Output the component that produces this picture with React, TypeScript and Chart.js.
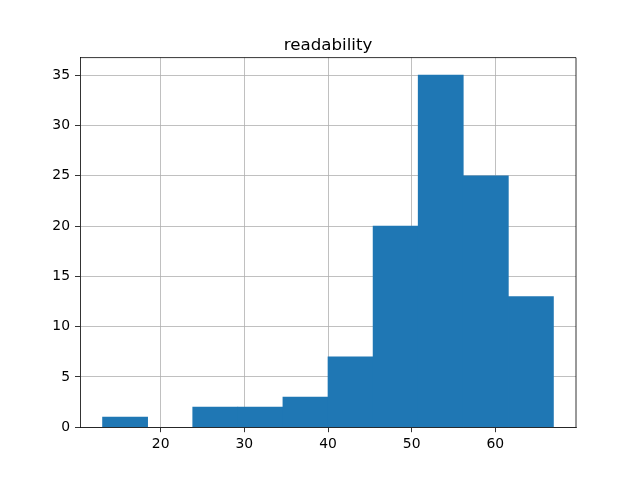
import React, { useEffect, useRef } from "react";
import { Chart, registerables } from "chart.js";

Chart.register(...registerables);

const chartTitle = "readability";
const binEdges = [13.05, 18.44, 23.83, 29.22, 34.61, 40.0, 45.39, 50.78, 56.17, 61.56, 66.95];
const binCounts = [1, 0, 2, 2, 3, 7, 20, 35, 25, 13];
const xTicks = [20, 30, 40, 50, 60];
const yTicks = [0, 5, 10, 15, 20, 25, 30, 35];
const xRange = [10.355, 69.645];
const yRange = [0, 36.75];

const FONT = "'DejaVu Sans', sans-serif";

export default function App() {
  const ref = useRef<HTMLCanvasElement | null>(null);

  useEffect(() => {
    const canvas = ref.current;
    if (!canvas) return;

    const data = binCounts.map((c, i) => ({
      x: (binEdges[i] + binEdges[i + 1]) / 2,
      y: c === 0 ? null : c,
    }));

    const framePlugin = {
      id: "frame",
      afterDraw(chart: any) {
        const { ctx, chartArea } = chart;
        ctx.save();
        ctx.strokeStyle = "#000";
        ctx.lineWidth = 0.8;
        ctx.beginPath();
        ctx.moveTo(chartArea.left, chartArea.top);
        ctx.lineTo(chartArea.right, chartArea.top);
        ctx.lineTo(chartArea.right, chartArea.bottom);
        ctx.stroke();
        ctx.fillStyle = "#000";
        ctx.font = `16.67px ${FONT}`;
        ctx.textAlign = "center";
        ctx.textBaseline = "alphabetic";
        ctx.fillText(chartTitle, (chartArea.left + chartArea.right) / 2, 50);
        ctx.restore();
      },
    };

    const chart = new Chart(canvas, {
      type: "bar",
      data: {
        datasets: [
          {
            data,
            backgroundColor: "#1f77b4",
            borderWidth: 0,
            barPercentage: 1,
            categoryPercentage: 1,
            skipNull: true,
          },
        ],
      },
      options: {
        animation: false,
        responsive: false,
        maintainAspectRatio: false,
        layout: { padding: { top: 57.6, right: 64, left: 0, bottom: 0 } },
        plugins: {
          legend: { display: false },
          title: { display: false },
          tooltip: { enabled: false },
        },
        scales: {
          x: {
            type: "linear",
            min: xRange[0],
            max: xRange[1],
            offset: false,
            z: 1,
            afterFit(scale: any) {
              scale.height = 52.8;
            },
            afterBuildTicks(scale: any) {
              scale.ticks = xTicks.map((v) => ({ value: v }));
            },
            grid: {
              offset: false,
              color: "#b0b0b0",
              lineWidth: 0.8,
              tickColor: "#000",
              tickWidth: 0.8,
              tickLength: 5,
            },
            border: { color: "#000", width: 0.8 },
            ticks: {
              color: "#000",
              font: { family: FONT, size: 13.9 },
              padding: 4,
              maxRotation: 0,
              autoSkip: false,
            },
          },
          y: {
            type: "linear",
            min: yRange[0],
            max: yRange[1],
            z: 1,
            afterFit(scale: any) {
              scale.width = 80;
            },
            afterBuildTicks(scale: any) {
              scale.ticks = yTicks.map((v) => ({ value: v }));
            },
            grid: {
              offset: false,
              color: "#b0b0b0",
              lineWidth: 0.8,
              tickColor: "#000",
              tickWidth: 0.8,
              tickLength: 5,
            },
            border: { color: "#000", width: 0.8 },
            ticks: {
              color: "#000",
              font: { family: FONT, size: 13.9 },
              padding: 5,
              autoSkip: false,
            },
          },
        },
      },
      plugins: [framePlugin],
    });

    return () => chart.destroy();
  }, []);

  return (
    <div style={{ position: "absolute", left: 0, top: 0, width: 640, height: 480, background: "#fff" }}>
      <canvas ref={ref} width={640} height={480} style={{ width: 640, height: 480, display: "block" }} />
    </div>
  );
}
